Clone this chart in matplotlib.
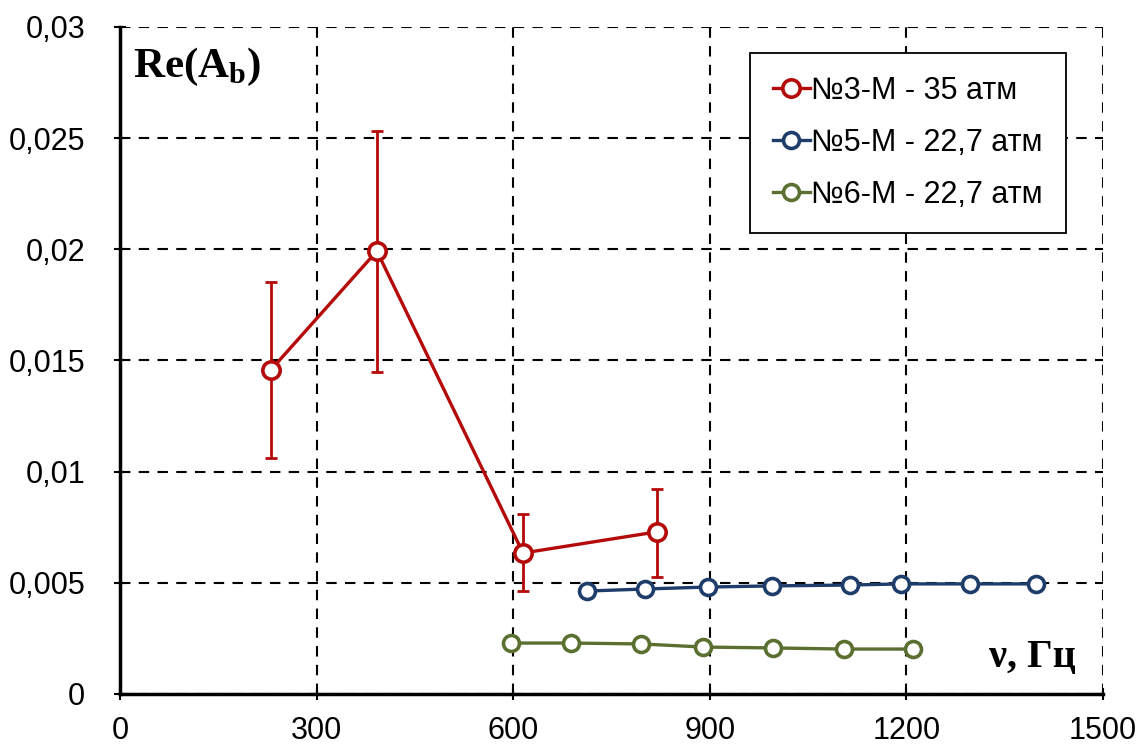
import matplotlib.pyplot as plt
from matplotlib.ticker import FuncFormatter

# Series 3-M (35 atm) with error bars
x3 = [230, 392, 615, 819]
y3 = [0.01457, 0.01992, 0.00634, 0.00729]
y3_hi = [0.01853, 0.02532, 0.0081, 0.00922]
y3_lo = [0.01061, 0.01448, 0.00463, 0.00526]

# Series 5-M (22.7 atm)
x5 = [713, 801, 897, 995, 1114, 1192, 1297, 1398]
y5 = [0.00463, 0.00472, 0.00481, 0.00486, 0.0049, 0.00495, 0.00495, 0.00495]

# Series 6-M (22.7 atm)
x6 = [597, 688, 795, 890, 996, 1105, 1210]
y6 = [0.00229, 0.00229, 0.00225, 0.00211, 0.00207, 0.00202, 0.00202]

labels = ["№3-M - 35 атм", "№5-M - 22,7 атм", "№6-M - 22,7 атм"]
colors = ["#B40A0A", "#1F3D6B", "#5B7030"]

x_ticks = [0, 300, 600, 900, 1200, 1500]
y_ticks = [0, 0.005, 0.01, 0.015, 0.02, 0.025, 0.03]

plt.rcParams['font.family'] = ['Liberation Sans', 'DejaVu Sans']
plt.rcParams['mathtext.fontset'] = 'custom'
plt.rcParams['mathtext.rm'] = 'Liberation Serif'
plt.rcParams['mathtext.bf'] = 'Liberation Serif:bold'

fig = plt.figure(figsize=(11.47, 7.47), dpi=100)
ax = fig.add_axes([0.1046, 0.071, 0.8571, 0.8929])

err = [[y - lo for y, lo in zip(y3, y3_lo)], [hi - y for y, hi in zip(y3, y3_hi)]]
ax.errorbar(x3, y3, yerr=err, fmt='none', ecolor=colors[0], elinewidth=2, capsize=4, capthick=2, zorder=3)

mk = dict(marker='o', markerfacecolor='white', markeredgewidth=2.6, lw=2.4, zorder=4)
ax.plot(x3, y3, color=colors[0], markersize=12.5, label=labels[0], **mk)
ax.plot(x5, y5, color=colors[1], markersize=11.5, label=labels[1], **mk)
ax.plot(x6, y6, color=colors[2], markersize=11.5, label=labels[2], **mk)

ax.set_xlim(0, 1500)
ax.set_ylim(0, 0.03)
ax.set_xticks(x_ticks)
ax.set_yticks(y_ticks)
ax.yaxis.set_major_formatter(FuncFormatter(lambda v, p: "0" if v == 0 else f"{v:g}".replace(".", ",")))
ax.tick_params(labelsize=22, direction='inout', length=8, width=1.5)
ax.tick_params(axis='y', pad=21)
ax.tick_params(axis='x', pad=12)

ax.grid(True, color='black', linestyle=(0, (5, 4)), linewidth=1.5)
ax.set_axisbelow(True)
for side in ['top', 'right']:
    ax.spines[side].set_visible(False)
for side in ['left', 'bottom']:
    ax.spines[side].set_linewidth(2.5)

ax.text(20, 0.0282, "Re(A$_\\mathbf{b}$)", fontsize=31, fontweight='bold', family='Liberation Serif', va='center')
ax.text(1458, 0.00166, "ν, Гц", fontsize=29, fontweight='bold', family='Liberation Serif', ha='right', va='center')

leg = ax.legend(loc='upper right', bbox_to_anchor=(0.962, 0.961), borderaxespad=0, fontsize=22, frameon=True,
                fancybox=False, framealpha=1, edgecolor='black', handlelength=1.2, handletextpad=0.05,
                labelspacing=0.72, borderpad=0.75, markerscale=1.0)
leg.get_frame().set_linewidth(1.3)

fig.savefig("out.png", dpi=100)
